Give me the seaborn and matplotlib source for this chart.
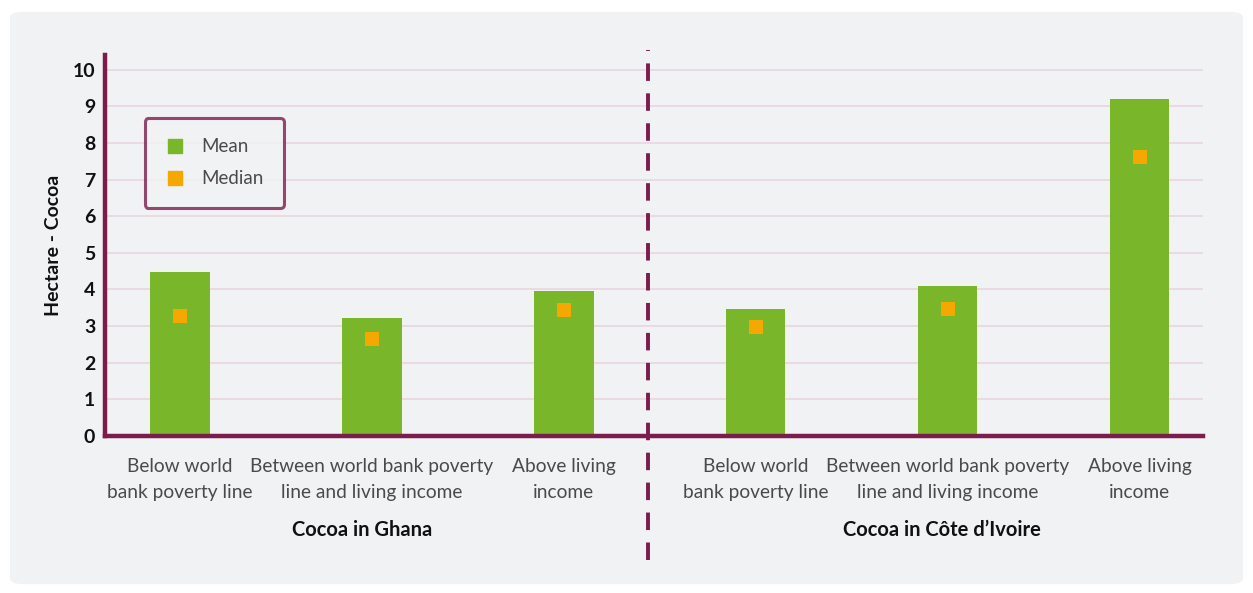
import matplotlib
matplotlib.use("Agg")
import matplotlib.pyplot as plt
from matplotlib.lines import Line2D
from matplotlib.patches import FancyBboxPatch
import seaborn as sns
import pandas as pd

# ---- data ----
groups = ["Cocoa in Ghana", "Cocoa in Ghana", "Cocoa in Ghana",
          "Cocoa in Côte d’Ivoire", "Cocoa in Côte d’Ivoire", "Cocoa in Côte d’Ivoire"]
categories = ["Below world\nbank poverty line",
              "Between world bank poverty\nline and living income",
              "Above living\nincome",
              "Below world\nbank poverty line",
              "Between world bank poverty\nline and living income",
              "Above living\nincome"]
mean_values = [4.47, 3.23, 3.96, 3.47, 4.10, 9.21]
median_values = [3.27, 2.64, 3.43, 2.98, 3.48, 7.62]
group_names = ["Cocoa in Ghana", "Cocoa in Côte d’Ivoire"]
y_ticks = [0, 1, 2, 3, 4, 5, 6, 7, 8, 9, 10]

df = pd.DataFrame({
    "key": [f"{g}|{c}" for g, c in zip(groups, categories)],
    "group": groups,
    "category": categories,
    "Mean": mean_values,
    "Median": median_values,
})

BG = "#f1f2f4"
MAROON = "#7b1c4d"
GREEN = "#7ab62a"
ORANGE = "#f5a800"
GRID = "#e8d3de"
TXT = "#4a4a4a"

sns.set_theme(style="white")
plt.rcParams["font.family"] = ["Lato", "DejaVu Sans"]

fig = plt.figure(figsize=(12.53, 5.93), dpi=100)
fig.patch.set_facecolor("white")
panel = FancyBboxPatch((0.008, 0.015), 0.984, 0.965, boxstyle="round,pad=0,rounding_size=0.01",
                       transform=fig.transFigure, facecolor=BG, edgecolor="none", zorder=-10)
fig.patches.append(panel)

ax = fig.add_axes([105 / 1253, 1 - 436 / 593, (1203 - 105) / 1253, (436 - 55) / 593])
ax.set_facecolor("none")

order = list(df["key"])
sns.barplot(data=df, x="key", y="Mean", order=order, color=GREEN, width=0.31,
            saturation=1, ax=ax, zorder=2, edgecolor=GREEN, linewidth=0)
sns.stripplot(data=df, x="key", y="Median", order=order, jitter=False, marker="s",
              color=ORANGE, size=9.5, linewidth=0, ax=ax, zorder=3)

ax.set_xlim(-0.39, 5.33)
ax.set_ylim(0, 10.4)
ax.set_yticks(y_ticks)
ax.set_yticklabels([str(t) for t in y_ticks], fontsize=14, fontweight="bold", color="#111111")
ax.set_xticks(range(len(order)))
ax.set_xticklabels(categories, fontsize=13.8, color=TXT, fontweight="normal", linespacing=1.6)
ax.tick_params(axis="x", length=0, pad=16)
ax.tick_params(axis="y", length=0, pad=7)
ax.set_xlabel("")
ax.set_ylabel("Hectare - Cocoa", fontsize=14, fontweight="bold", color="#111111", labelpad=8)

ax.yaxis.grid(True, color=GRID, linewidth=1.1, zorder=0)
ax.set_axisbelow(True)
for s in ["top", "right"]:
    ax.spines[s].set_visible(False)
for s in ["left", "bottom"]:
    ax.spines[s].set_color(MAROON)
    ax.spines[s].set_linewidth(3.2)
    ax.spines[s].set_zorder(4)

# dashed divider between the two groups
trans = matplotlib.transforms.blended_transform_factory(ax.transData, ax.transAxes)
ax.add_line(Line2D([2.44, 2.44], [-0.325, 1.013], transform=trans, color=MAROON,
                   linewidth=2.8, linestyle=(0, (4.5, 3.2)), clip_on=False, zorder=5))

# group labels
for gx, name in zip([0.95, 3.97], group_names):
    ax.text(gx, -0.248, name, transform=trans, ha="center", va="center",
            fontsize=14.5, fontweight="bold", color="#111111")

handles = [Line2D([0], [0], marker="s", linestyle="none", color=GREEN, markersize=10),
           Line2D([0], [0], marker="s", linestyle="none", color=ORANGE, markersize=10)]
leg = ax.legend(handles, ["Mean", "Median"], loc="upper left", bbox_to_anchor=(0.036, 0.835),
                borderaxespad=0, frameon=True, fontsize=13.5, handletextpad=0.9,
                borderpad=1.1, labelspacing=0.8, handlelength=1.0, fancybox=True)
for t in leg.get_texts():
    t.set_fontweight("normal")
    t.set_color(TXT)
leg.get_frame().set_edgecolor(MAROON)
leg.get_frame().set_linewidth(2.2)
leg.get_frame().set_facecolor(BG)

fig.savefig("out.png", dpi=100, facecolor=fig.get_facecolor())
